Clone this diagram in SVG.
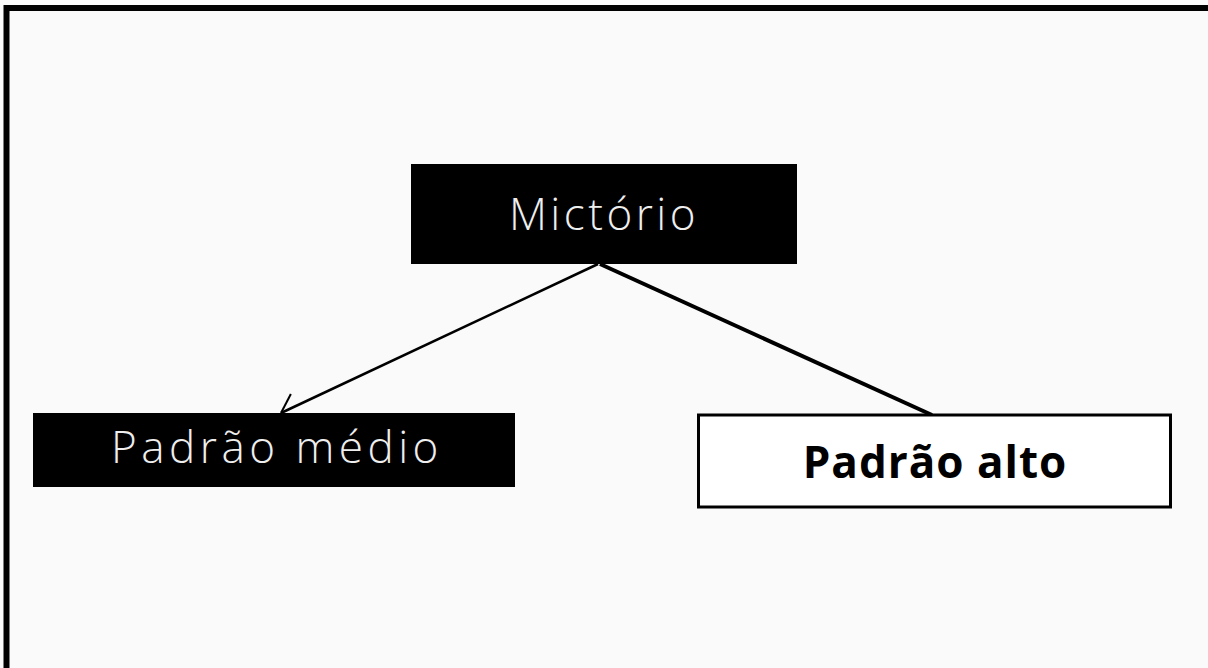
<svg xmlns="http://www.w3.org/2000/svg" width="1208" height="668" viewBox="0 0 1208 668">
<defs>
<style>
.lbl{font-family:"Open Sans","Liberation Sans",sans-serif;text-anchor:middle;dominant-baseline:central}
.light{fill:#eeeeee;font-weight:300}
.dark{fill:#000;font-weight:700}
</style>
<marker id="arr" viewBox="0 0 30 30" refX="25" refY="10" markerWidth="30" markerHeight="30" markerUnits="userSpaceOnUse" orient="auto">
<path d="M8,23 L25,10" fill="none" stroke="#000" stroke-width="2"/>
</marker>
</defs>
<rect x="0" y="0" width="1208" height="668" fill="#fafafa"/>
<path d="M6.5,668 V8 H1208" fill="none" stroke="#000" stroke-width="6"/>
<g id="connectors" fill="none" stroke="#000">
<line x1="598" y1="264" x2="281" y2="413" stroke-width="2.5" marker-end="url(#arr)"/>
<line x1="600" y1="264" x2="932" y2="415" stroke-width="4"/>
</g>
<g id="node-mictorio">
<rect x="411" y="164" width="386" height="100" fill="#000"/>
<text class="lbl light" x="604" y="213" font-size="44" letter-spacing="3.5">Mictório</text>
</g>
<g id="node-medio">
<rect x="33" y="413" width="482" height="74" fill="#000"/>
<text class="lbl light" x="277" y="446" font-size="44" letter-spacing="4.5">Padrão médio</text>
</g>
<g id="node-alto">
<rect x="698.5" y="415" width="472" height="92" fill="#fff" stroke="#000" stroke-width="3"/>
<text class="lbl dark" x="935" y="461" font-size="44" letter-spacing="1">Padrão alto</text>
</g>
</svg>
